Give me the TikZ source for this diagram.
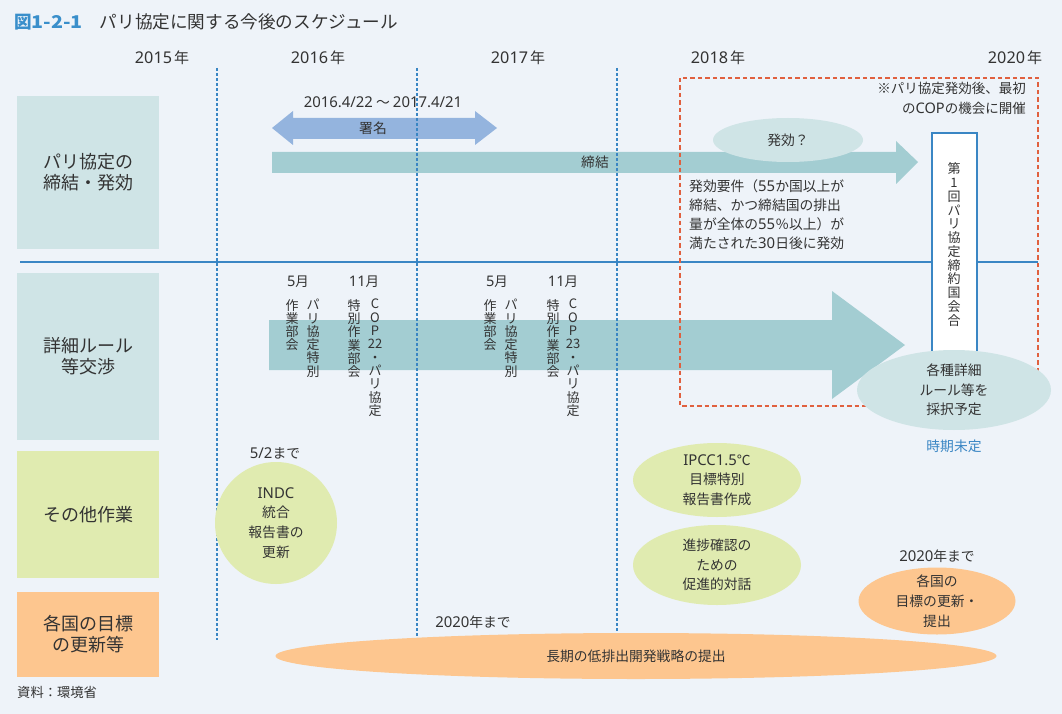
\documentclass[tikz,border=0pt]{standalone}
\usepackage{fontspec}
\setmainfont{Noto Sans CJK JP}
\newfontfamily\latf{Noto Sans}[Scale=1.08]
\newcommand\latn[1]{{\latf #1}}
\usetikzlibrary{shapes.geometric}
\definecolor{bg}{HTML}{EEF3F9}
\definecolor{teallt}{HTML}{CFE4E6}
\definecolor{tealar}{HTML}{A3CDD2}
\definecolor{sigblue}{HTML}{94B4DE}
\definecolor{greenlt}{HTML}{E0EBB0}
\definecolor{orangelt}{HTML}{FDC68F}
\definecolor{lineblue}{HTML}{3A86C4}
\definecolor{reddash}{HTML}{E0603F}
\definecolor{txt}{HTML}{333333}
\definecolor{titleblue}{HTML}{3A8FCB}
\tikzset{
  lbox/.style={inner sep=0pt, minimum width=142pt, align=center, text=txt,
    font=\fontsize{18}{21}\selectfont},
  yearlbl/.style={inner sep=0pt, text=txt, font=\fontsize{15}{17}\selectfont},
  small/.style={inner sep=0pt, text=txt, align=center, font=\fontsize{13.8}{19.7}\selectfont},
  vcol/.style={inner sep=0pt, anchor=north, text=txt, align=center, font=\fontsize{13}{13.3}\selectfont},
  vdash/.style={draw=lineblue, line width=1.4pt, dash pattern=on 3pt off 2pt},
  rdash/.style={draw=reddash, line width=1.5pt, dash pattern=on 4.5pt off 3pt},
  blob/.style={ellipse, inner sep=0pt},
}
\begin{document}
\begin{tikzpicture}[x=1pt,y=-1pt]
\useasboundingbox (0,0) rectangle (1062,714);
\fill[bg] (0,0) rectangle (1062,714);

% title
\node[anchor=west, inner sep=0pt, text=txt, font=\fontsize{17.6}{20}\selectfont] (title) at (14,22)
  {{\color{titleblue}\bfseries 図\scalebox{1.12}[1]{1-2-1}}\hspace{17pt}パリ協定に関する今後のスケジュール};

% years
\node[yearlbl] (y15) at (162,58) {\latn{2015}\hspace{2pt}年};
\node[yearlbl] (y16) at (318,58) {\latn{2016}\hspace{2pt}年};
\node[yearlbl] (y17) at (518,58) {\latn{2017}\hspace{2pt}年};
\node[yearlbl] (y18) at (718,58) {\latn{2018}\hspace{2pt}年};
\node[yearlbl] (y20) at (1015,58) {\latn{2020}\hspace{2pt}年};

% left label boxes
\node[lbox, fill=teallt, minimum height=153pt] (b1) at (88,172.5) {パリ協定の\\締結・発効};
\node[lbox, fill=teallt, minimum height=167pt] (b2) at (88,356.5) {詳細ルール\\等交渉};
\node[lbox, fill=greenlt, minimum height=127pt] (b3) at (88,514.5) {その他作業};
\node[lbox, fill=orangelt, minimum height=85pt] (b4) at (88,634.5) {各国の目標\\の更新等};

% horizontal separator
\coordinate (hl) at (20,262);
\coordinate (hr) at (1038,262);
\draw[lineblue, line width=1.5pt] (hl) -- (hr);

% arrows
\fill[sigblue] (272,128) -- (293,111) -- (293,118) -- (475,118) -- (475,111) -- (497,128)
  -- (475,145) -- (475,139) -- (293,139) -- (293,145) -- cycle;
\node[small] (sig) at (373,128) {署名};
\node[small] (sigdate) at (383,102) {\latn{2016.4/22} 〜 \latn{2017.4/21}};

\fill[tealar] (272,152) -- (896,152) -- (896,141) -- (918,162) -- (896,184) -- (896,173) -- (272,173) -- cycle;
\node[small] (teiketsu) at (595,162) {締結};

\fill[tealar] (269,320) -- (832,320) -- (832,291) -- (905,345) -- (832,399) -- (832,370) -- (269,370) -- cycle;

% hakko ellipse
\node[blob, fill=teallt, minimum width=150pt, minimum height=44pt] (hakko) at (788,140) {};
\node[small] at (hakko) {発効？};

% condition text
\node[small, align=left, anchor=north west, font=\fontsize{13.8}{19.2}\selectfont] (cond) at (689,179)
  {発効要件（\latn{55}か国以上が\\締結、かつ締結国の排出\\量が全体の\latn{55}％以上）が\\満たされた\latn{30}日後に発効};

% vertical dashed year lines
\foreach \x/\n in {217/a,417/b,617/c}{
  \coordinate (t\n) at (\x,68);
  \coordinate (u\n) at (\x,640);
  \draw[vdash] (t\n) -- (u\n);
}

% vertical texts
\node[yearlbl, font=\fontsize{13.5}{16}\selectfont] (m1) at (298,282) {\latn{5}月};
\node[yearlbl, font=\fontsize{13.5}{16}\selectfont] (m2) at (364,282) {\latn{11}月};
\node[yearlbl, font=\fontsize{13.5}{16}\selectfont] (m3) at (497,282) {\latn{5}月};
\node[yearlbl, font=\fontsize{13.5}{16}\selectfont] (m4) at (563,282) {\latn{11}月};

\node[vcol] (v1r) at (313,299) {パ\\リ\\協\\定\\特\\別};
\node[vcol] (v1l) at (292,299) {作\\業\\部\\会};
\node[vcol] (v2r) at (375,299) {C\\O\\P\\22\\・\\パ\\リ\\協\\定};
\node[vcol] (v2l) at (354,299) {特\\別\\作\\業\\部\\会};
\node[vcol] (v3r) at (511,299) {パ\\リ\\協\\定\\特\\別};
\node[vcol] (v3l) at (490,299) {作\\業\\部\\会};
\node[vcol] (v4r) at (573,299) {C\\O\\P\\23\\・\\パ\\リ\\協\\定};
\node[vcol] (v4l) at (553,299) {特\\別\\作\\業\\部\\会};

% red dashed frame
\draw[rdash] (680,78) rectangle (1038,406);
\node[small, align=right, anchor=north east, font=\fontsize{13.5}{19.5}\selectfont] (note) at (1026,82)
  {※パリ協定発効後、最初\\の\latn{COP}の機会に開催};

% COP1 vertical box
\node[draw=lineblue, line width=1.5pt, fill=white, minimum width=45pt, minimum height=246pt, inner sep=0pt] (cop) at (954.5,256) {};
\node[vcol, anchor=center, font=\fontsize{13}{13.75}\selectfont] (coptxt) at (954,244.5)
  {第\\1\\回\\パ\\リ\\協\\定\\締\\約\\国\\会\\合};

% adoption ellipse
\node[blob, fill=teallt, minimum width=194pt, minimum height=80pt] (adopt) at (954,390) {};
\node[small] at (adopt) {各種詳細\\ルール等を\\採択予定};
\node[small, text=lineblue] (undec) at (954,446) {時期未定};

% other work
\node[small] (till52) at (275,453) {\latn{5/2}まで};
\node[circle, fill=greenlt, minimum size=122pt, inner sep=0pt] (indc) at (276,523) {};
\node[small] at (indc) {\latn{INDC}\\統合\\報告書の\\更新};

\node[blob, fill=greenlt, minimum width=168pt, minimum height=74pt] (ipcc) at (717,480) {};
\node[small] at (ipcc) {\latn{IPCC1.5}℃\\目標特別\\報告書作成};
\node[blob, fill=greenlt, minimum width=168pt, minimum height=80pt] (dial) at (717,565) {};
\node[small] at (dial) {進捗確認の\\ための\\促進的対話};

% national targets
\node[small] (till20a) at (937,556) {\latn{2020}年まで};
\node[blob, fill=orangelt, minimum width=157pt, minimum height=67pt] (ndc) at (937,601) {};
\node[small] at (ndc) {各国の\\目標の更新・\\提出};

\node[small] (till20b) at (473,622) {\latn{2020}年まで};
\node[blob, fill=orangelt, minimum width=721pt, minimum height=46pt] (lts) at (636,656) {};
\node[small] at (lts) {長期の低排出開発戦略の提出};

% source
\node[anchor=west, inner sep=0pt, text=txt, font=\fontsize{13.3}{15}\selectfont] (src) at (17,692) {資料：環境省};
\end{tikzpicture}
\end{document}
